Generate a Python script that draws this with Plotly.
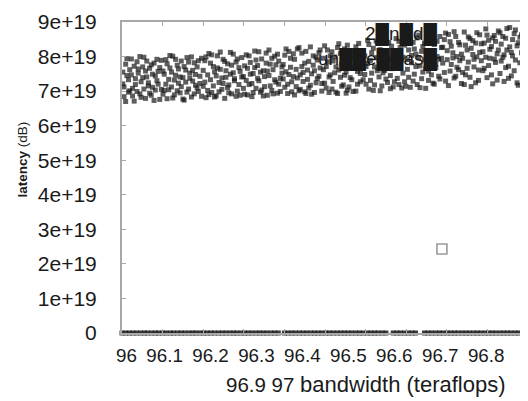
import plotly.graph_objects as go

# ---------------- data ----------------
x_tick_labels = ["96", "96.1", "96.2", "96.3", "96.4", "96.5", "96.6", "96.7", "96.8", "96.9", "97"]
x_title = "bandwidth (teraflops)"
y_title_word = "latency"
y_title_unit = "(dB)"
legend_line1 = "2\u2588n\u2588d\u2588"
legend_line2 = "un\u2588\u2588e\u2588\u2588as\u2588"

# dense band (y in units of 1e19); two samples per x position
band_x = [
    96.002,96.005,96.009,96.012,96.016,96.019,96.023,96.026,96.030,96.033,96.037,96.040,96.044,96.047,96.051,96.054,96.058,96.061,96.065,96.068,96.072,96.075,96.079,96.082,96.086,96.089,96.093,96.097,
    96.101,96.104,96.108,96.111,96.115,96.118,96.122,96.125,96.129,96.132,96.136,96.139,96.143,96.146,96.150,96.153,96.157,96.160,96.164,96.167,96.171,96.174,96.178,96.181,96.185,96.188,96.192,96.196,
    96.200,96.204,96.207,96.211,96.214,96.218,96.221,96.225,96.228,96.232,96.235,96.239,96.242,96.246,96.249,96.253,96.256,96.260,96.263,96.267,96.270,96.274,96.277,96.281,96.284,96.288,96.291,96.295,
    96.299,96.302,96.306,96.309,96.313,96.316,96.320,96.323,96.327,96.330,96.334,96.337,96.341,96.344,96.348,96.351,96.355,96.358,96.362,96.365,96.369,96.372,96.376,96.379,96.383,96.386,96.390,96.394,
    96.397,96.401,96.404,96.408,96.411,96.415,96.418,96.422,96.425,96.429,96.432,96.436,96.439,96.443,96.446,96.450,96.453,96.457,96.460,96.464,96.467,96.471,96.474,96.478,96.481,96.485,96.488,96.492,
    96.496,96.499,96.503,96.506,96.510,96.513,96.517,96.520,96.524,96.527,96.531,96.534,96.538,96.541,96.545,96.548,96.552,96.555,96.559,96.562,96.566,96.569,96.573,96.576,96.580,96.583,96.587,96.591,
    96.594,96.598,96.601,96.605,96.608,96.612,96.615,96.619,96.622,96.626,96.629,96.633,96.636,96.640,96.643,96.647,96.650,96.654,96.657,96.661,96.664,96.668,96.671,96.675,96.678,96.682,96.685,96.689,
    96.692,96.696,96.699,96.703,96.706,96.710,96.713,96.717,96.720,96.724,96.727,96.731,96.734,96.738,96.741,96.745,96.748,96.752,96.755,96.759,96.762,96.766,96.769,96.773,96.776,96.780,96.783,96.787,
    96.790,96.794,96.797,96.801,96.804,96.808,96.811,96.815,96.818,96.822,96.825,96.829,96.832,96.836,96.839,96.843,96.846,96.850,96.853,96.857,96.860,96.864,96.867,96.871,96.874,96.878,96.881,96.885,
    96.889,96.892,96.896,96.899,96.903,96.906,96.910,96.913,96.917,96.920,96.924,96.927,96.931,96.934,96.938,96.941,96.945,96.948,96.952,96.955,96.959,96.962,96.966,96.969,96.973,96.976,96.980,96.984,96.988,96.993,96.998,
]
band_y = [
    7.21,6.84,7.78,7.45,6.97,7.62,7.93,7.08,6.71,7.36,7.85,7.52,6.92,7.27,7.70,7.98,6.79,7.41,7.15,7.66,6.88,7.49,7.81,7.03,7.30,7.57,6.76,7.89,
    7.58,7.02,7.91,6.78,7.34,7.67,7.12,8.01,6.89,7.46,7.75,7.23,6.95,7.87,7.39,6.74,7.61,7.97,7.06,7.52,6.83,7.29,7.82,7.17,7.70,6.99,7.43,7.95,
    7.14,7.88,6.81,7.47,8.09,7.33,6.96,7.71,7.56,6.86,8.02,7.25,7.63,7.05,7.92,6.79,7.40,7.79,7.18,8.12,6.92,7.53,7.36,7.84,7.00,7.68,6.88,7.97,
    7.42,6.91,8.05,7.66,7.19,7.83,6.84,7.51,8.16,7.08,7.74,7.30,6.97,7.93,7.59,7.13,8.10,6.88,7.45,7.78,7.02,7.62,8.01,7.26,6.94,7.87,7.37,7.70,
    7.77,7.11,8.22,6.93,7.48,7.95,7.27,8.08,6.89,7.63,7.38,8.26,7.05,7.71,7.54,6.98,8.15,7.34,7.86,7.17,6.91,8.02,7.59,7.24,7.90,7.43,8.19,7.00,
    7.62,8.31,7.09,7.85,6.96,7.47,8.14,7.28,7.99,7.70,6.93,8.37,7.40,7.14,7.92,8.22,7.55,7.03,7.81,8.05,7.33,6.99,7.66,8.28,7.20,7.88,7.51,8.11,
    7.33,8.02,7.71,8.47,7.06,7.89,7.52,8.24,7.18,7.97,8.39,7.41,7.01,7.77,8.13,7.60,8.51,7.25,7.92,7.45,8.30,7.12,7.84,8.07,7.37,8.44,7.66,7.09,
    7.98,7.27,8.56,7.63,8.19,7.11,7.82,8.41,7.49,8.07,7.19,8.62,7.73,7.36,8.29,7.91,7.08,8.50,7.58,8.12,7.85,7.23,8.35,7.68,8.00,7.43,8.58,7.95,
    8.27,7.54,8.68,7.91,7.16,8.43,7.77,8.11,7.38,8.58,8.00,7.62,8.34,7.22,7.95,8.71,7.47,8.19,7.84,8.52,7.13,8.06,7.70,8.39,7.99,7.31,8.63,7.88,
    8.14,7.66,8.80,7.39,8.47,7.95,8.29,7.21,8.61,7.83,8.08,8.74,7.51,8.36,7.98,7.28,8.53,8.19,7.72,8.84,7.44,8.02,8.66,7.90,8.31,7.17,8.56,8.11,7.79,8.43,8.70,
]
band_y2 = [
    7.55,7.12,6.70,7.94,7.33,7.01,7.47,6.86,7.72,7.19,6.99,7.64,8.00,6.82,7.39,7.06,7.58,7.87,7.24,6.94,7.76,7.11,6.73,7.44,7.92,7.20,7.68,7.05,
    6.91,7.49,7.20,7.79,7.04,8.03,7.55,6.80,7.32,7.92,7.01,7.64,7.41,7.13,6.77,7.71,7.26,6.97,7.84,7.37,7.99,7.60,6.92,7.48,7.09,7.88,7.22,6.85,
    7.60,7.26,7.99,7.02,6.90,7.81,8.05,7.15,6.83,7.44,7.67,6.98,8.13,7.38,7.22,7.86,7.59,7.10,6.95,7.49,7.75,8.07,7.30,6.85,7.93,7.19,7.57,7.41,
    7.08,7.73,7.31,6.89,8.02,7.49,7.22,6.96,7.68,7.90,7.37,8.14,7.55,7.03,6.86,7.42,7.81,7.58,8.19,7.15,7.95,6.92,7.33,7.76,8.07,7.20,6.99,7.52,
    7.35,8.04,7.56,7.20,8.15,7.69,6.98,7.42,7.92,7.13,8.22,7.01,7.47,8.10,7.28,7.81,6.93,7.61,7.09,8.28,7.50,7.75,6.96,7.98,7.36,8.11,7.67,7.22,
    7.95,7.23,7.71,8.19,7.41,8.02,7.06,7.87,7.53,6.97,8.26,7.61,8.09,7.78,7.18,7.46,6.94,8.33,7.12,7.39,7.69,8.16,7.94,7.00,7.57,8.38,7.27,7.74,
    8.16,7.48,7.20,7.80,8.35,7.31,8.11,7.02,7.70,8.45,7.59,7.89,8.20,7.15,7.53,8.04,7.35,7.81,8.41,7.07,7.65,7.99,7.27,8.52,7.73,7.19,8.26,7.90,
    7.52,8.33,7.14,7.91,7.40,8.47,8.03,7.29,8.22,7.71,8.54,7.96,7.10,8.15,7.55,8.39,7.66,7.86,7.31,8.60,7.47,8.09,7.20,7.78,8.44,7.92,7.35,8.26,
    7.81,8.49,7.29,8.17,8.64,7.58,8.30,7.96,8.72,7.43,7.69,8.41,7.88,8.07,7.54,7.19,8.33,7.66,8.57,7.40,8.24,8.46,7.92,7.24,8.69,7.61,8.12,8.37,
    7.59,8.39,7.98,8.62,7.74,8.21,7.47,8.54,7.93,8.44,7.32,8.19,8.69,7.87,8.58,8.05,7.68,8.81,7.37,8.28,8.12,8.49,7.59,8.77,7.24,8.40,7.82,8.63,8.25,7.54,8.08,
]

# points lying on zero
zero_x = [
    96.000,96.009,96.018,96.027,96.036,96.046,96.055,96.063,96.073,96.082,96.090,96.100,96.109,96.119,96.127,96.137,96.146,96.155,96.165,96.174,
    96.182,96.192,96.201,96.210,96.219,96.228,96.238,96.247,96.256,96.266,96.275,96.283,96.293,96.302,96.311,96.320,96.330,96.339,96.348,96.357,
    96.367,96.376,96.385,96.400,96.409,96.418,96.427,96.437,96.446,96.455,96.465,96.474,96.483,96.492,96.502,96.511,96.520,96.530,96.539,96.548,
    96.557,96.566,96.576,96.585,96.594,96.604,96.613,96.622,96.631,96.641,96.650,96.668,96.677,96.686,96.696,96.705,96.714,96.723,96.745,96.754,
    96.763,96.773,96.782,96.791,96.801,96.810,96.819,96.828,96.838,96.847,96.856,96.866,96.875,96.884,96.894,96.903,96.912,96.921,96.931,96.940,
    96.949,96.958,96.968,96.977,96.986,96.995,
]
zero_y = [0.0] * len(zero_x)

# single outlier point
outlier_x = [96.788]
outlier_y = [2.43]

SCALE = 1e19
FONT = "Liberation Sans, Arial, sans-serif"
TXT = "#1a1a1a"
AX = "#a8a8a8"

fig = go.Figure()
for ys in (band_y, band_y2):
    fig.add_trace(go.Scatter(
        x=band_x[:len(ys)], y=[v * SCALE for v in ys], mode="markers",
        marker=dict(symbol="square", size=5, color="#111111", opacity=0.68, line=dict(width=0)),
        showlegend=False, hoverinfo="skip"))
fig.add_trace(go.Scatter(
    x=zero_x, y=zero_y, mode="markers", cliponaxis=False,
    marker=dict(symbol="square", size=5, color="#1a1a1a", opacity=0.85, line=dict(width=0)),
    showlegend=False, hoverinfo="skip"))
fig.add_trace(go.Scatter(
    x=outlier_x, y=[v * SCALE for v in outlier_y], mode="markers",
    marker=dict(symbol="square-open", size=10, color="#9a9a9a", line=dict(width=1.6, color="#9a9a9a")),
    showlegend=False, hoverinfo="skip"))

fig.update_xaxes(
    range=[96, 97], dtick=0.1, tick0=96, showticklabels=False,
    ticks="inside", ticklen=4, tickcolor=AX, tickwidth=1,
    showline=True, linecolor=AX, linewidth=2, mirror="ticks",
    showgrid=False, zeroline=False)
fig.update_yaxes(
    range=[0, 9e19], dtick=1e19, tick0=0, exponentformat="e", showexponent="all",
    ticks="inside", ticklen=4, tickcolor=AX, tickwidth=1,
    showline=True, linecolor=AX, linewidth=2,
    showgrid=False, zeroline=False, ticklabelstandoff=19,
    tickfont=dict(family=FONT, size=21, color=TXT))

sep = "\u2002"
line1 = sep.join(x_tick_labels[:9])
line2 = " ".join(x_tick_labels[9:]) + " <span style='font-size:22px'>" + x_title + "</span>"

annotations = [
    dict(text=line1, xref="paper", yref="paper", x=0.945, y=-0.071, xanchor="right", yanchor="middle",
         showarrow=False, font=dict(family=FONT, size=18.8, color=TXT)),
    dict(text=line2, xref="paper", yref="paper", x=0.951, y=-0.164, xanchor="right", yanchor="middle",
         showarrow=False, font=dict(family=FONT, size=20.5, color=TXT)),
    dict(text="<b>" + y_title_word + "</b> " + y_title_unit, xref="paper", yref="paper",
         x=-0.245, y=0.556, xanchor="center", yanchor="middle", textangle=-90,
         showarrow=False, font=dict(family=FONT, size=13.5, color=TXT)),
    dict(text=legend_line1, xref="paper", yref="paper", x=0.783, y=0.962, xanchor="right", yanchor="middle",
         showarrow=False, font=dict(family=FONT, size=19, color=TXT)),
    dict(text=legend_line2, xref="paper", yref="paper", x=0.783, y=0.881, xanchor="right", yanchor="middle",
         showarrow=False, font=dict(family=FONT, size=19, color=TXT)),
]

# the page body adds an 8px offset, so the figure is 8px smaller on each axis
fig.update_layout(
    width=520, height=393,
    margin=dict(l=114, r=0, t=14, b=68, pad=0),
    paper_bgcolor="white", plot_bgcolor="white",
    annotations=annotations, showlegend=False,
    font=dict(family=FONT, color=TXT))

fig.write_html("out.html")
